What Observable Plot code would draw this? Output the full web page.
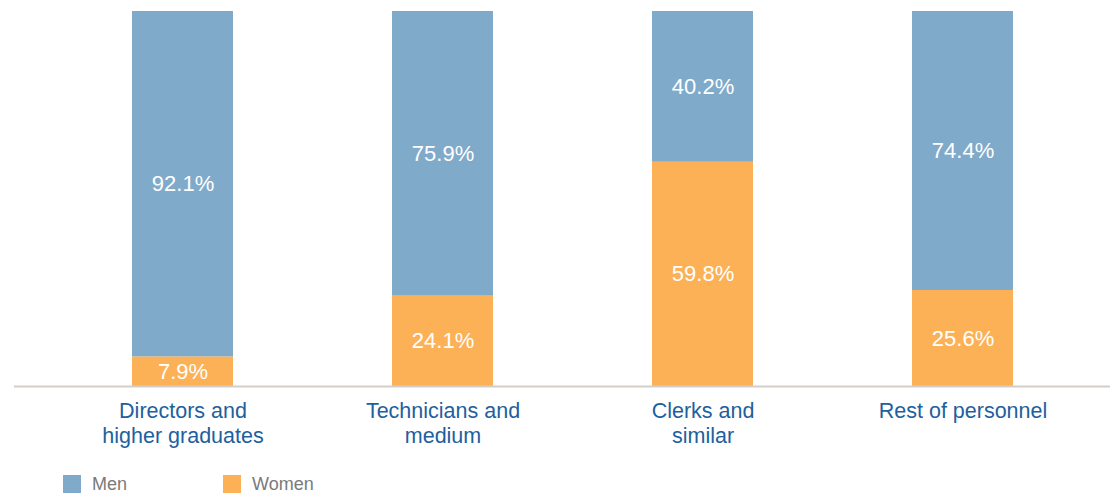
<!DOCTYPE html>
<html>
<head>
<meta charset="utf-8">
<script src="https://cdn.jsdelivr.net/npm/d3@7"></script>
<script src="https://cdn.jsdelivr.net/npm/@observablehq/plot@0.6"></script>
<style>
  body { margin: 0; background: #fff; font-family: "Liberation Sans", Arial, sans-serif; }
  #legend { position: relative; height: 34px; }
  .sw { position: absolute; top: 15px; width: 18px; height: 18px; }
  .lt { position: absolute; top: 14px; font-size: 18px; color: #7a7a7a; line-height: 20px; }
</style>
</head>
<body>
<div id="chart"></div>
<div id="legend">
  <div class="sw" style="left:63px;background:#80aaca"></div><div class="lt" style="left:92px">Men</div>
  <div class="sw" style="left:223px;background:#fdb157"></div><div class="lt" style="left:252px">Women</div>
</div>
<script>
const categories = ["Directors and\nhigher graduates", "Technicians and\nmedium", "Clerks and\nsimilar", "Rest of personnel"];
const series = ["Women", "Men"];
const women = [7.9, 24.1, 59.8, 25.6];
const men = [92.1, 75.9, 40.2, 74.4];
const colors = ["#fdb157", "#80aaca"];

const data = [];
categories.forEach((c, i) => {
  data.push({cat: c, series: "Women", value: women[i]});
  data.push({cat: c, series: "Men", value: men[i]});
});

const chart = Plot.plot({
  width: 1111,
  height: 460,
  marginTop: 11,
  marginBottom: 74,
  marginLeft: 14,
  marginRight: 1,
  style: {fontFamily: "'Liberation Sans', Arial, sans-serif", background: "#fff"},
  x: {domain: categories, range: [79, 1067], paddingInner: 0.61, paddingOuter: 0.2, label: null},
  y: {domain: [0, 100], axis: null},
  color: {domain: series, range: colors},
  marks: [
    Plot.barY(data, Plot.stackY({x: "cat", y: "value", fill: "series", z: "series", order: series})),
    Plot.text(data, Plot.stackY({x: "cat", y: "value", z: "series", order: series, text: d => d.value.toFixed(1) + "%", fill: "white", fontSize: 22, fontWeight: 300})),
    Plot.ruleY([0], {stroke: "#d3cfc8", strokeWidth: 2}),
    Plot.axisX({tickSize: 0, tickPadding: 14, fontSize: 21.5, lineHeight: 1.16, fill: "#1e5f9e", textAnchor: "middle", label: null})
  ]
});
document.getElementById("chart").appendChild(chart);
</script>
</body>
</html>
